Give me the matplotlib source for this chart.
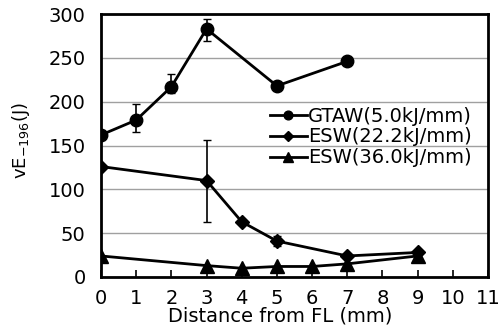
import matplotlib.pyplot as plt
from matplotlib.lines import Line2D

plt.rcParams["font.family"] = ["DejaVu Sans"]

gtaw_x = [0, 1, 2, 3, 5, 7]
gtaw_y = [162, 179, 217, 283, 218, 246]
gtaw_err_lo = [0, 14, 7, 14, 0, 0]
gtaw_err_hi = [0, 18, 14, 11, 0, 0]

esw22_x = [0, 3, 4, 5, 7, 9]
esw22_y = [126, 110, 63, 41, 24, 28]
esw22_err_lo = [0, 47, 0, 6, 0, 0]
esw22_err_hi = [0, 46, 0, 6, 0, 0]

esw36_x = [0, 3, 4, 5, 6, 7, 9]
esw36_y = [24, 13, 10, 12, 12, 15, 24]

labels = ["GTAW(5.0kJ/mm)", "ESW(22.2kJ/mm)", "ESW(36.0kJ/mm)"]
markers = ["o", "D", "^"]
sizes = [9, 7, 10]

fig = plt.figure(figsize=(4.98, 3.33), dpi=100)
ax = fig.add_axes([101 / 498, 1 - 277 / 333, 387 / 498, 263 / 333])

ax.errorbar(gtaw_x, gtaw_y, yerr=[gtaw_err_lo, gtaw_err_hi], color="black",
            marker=markers[0], markersize=sizes[0], linewidth=2,
            elinewidth=1.2, capsize=3, zorder=3)
ax.errorbar(esw22_x, esw22_y, yerr=[esw22_err_lo, esw22_err_hi], color="black",
            marker=markers[1], markersize=sizes[1], linewidth=2,
            elinewidth=1.2, capsize=3, zorder=3)
ax.plot(esw36_x, esw36_y, color="black", marker=markers[2],
        markersize=sizes[2], linewidth=2, zorder=3)

ax.set_xlim(0, 11)
ax.set_ylim(0, 300)
ax.set_xticks(range(0, 12))
ax.set_yticks(range(0, 301, 50))
ax.yaxis.grid(True, color="#a0a0a0", linewidth=1)
ax.set_axisbelow(True)
ax.tick_params(axis="x", direction="in", length=5, width=1.2, labelsize=14, pad=9)
ax.tick_params(axis="y", length=0, labelsize=14, pad=11)
for spine in ax.spines.values():
    spine.set_linewidth(2)

ax.set_xlabel("Distance from FL (mm)", fontsize=14, va="top")
ax.xaxis.set_label_coords((280 - 101) / 387, -(307 - 277) / 263)
ax.set_ylabel(r"vE$_{\mathregular{-196}}$(J)", fontsize=13, va="center")
ax.yaxis.set_label_coords(-(101 - 21) / 387, (277 - 140) / 263)

handles = [Line2D([], [], color="black", marker=m, markersize=s * 0.7, linewidth=2)
           for m, s in zip(markers, sizes)]
ax.legend(handles, labels, loc="center left",
          bbox_to_anchor=((270 - 101) / 387, (277 - 137) / 263),
          frameon=False, fontsize=14, handlelength=1.9, handletextpad=0.05,
          labelspacing=0.1, borderpad=0, borderaxespad=0)

fig.savefig("out.png", dpi=100)
